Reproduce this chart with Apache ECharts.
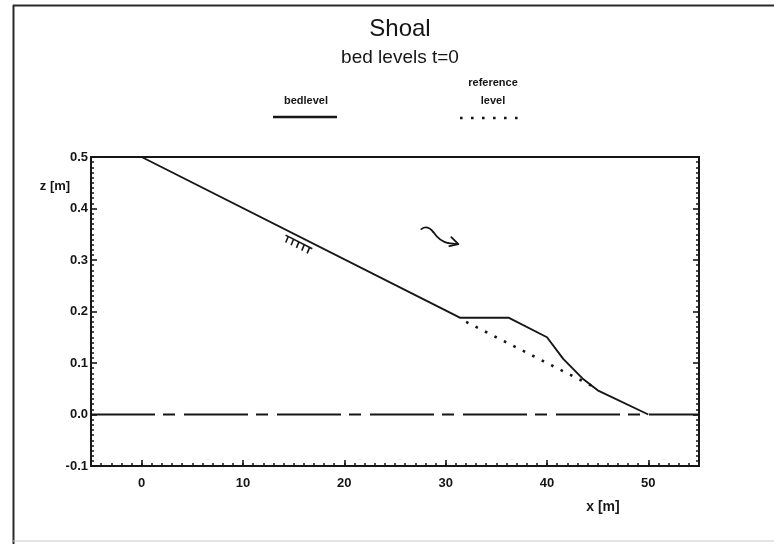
<!DOCTYPE html>
<html>
<head>
<meta charset="utf-8">
<script src="https://cdn.jsdelivr.net/npm/echarts@6/dist/echarts.min.js"></script>
<style>
  html, body { margin: 0; padding: 0; background: #fff; }
  #chart { width: 774px; height: 544px; }
</style>
</head>
<body>
<div id="chart"></div>
<script>
// Bed profile along the flume (x in m, z in m)
const bedX = [0, 31.4, 36.2, 40, 41.6, 43.5, 45, 50];
const bedZ = [0.5, 0.188, 0.188, 0.15, 0.108, 0.07, 0.047, 0];
// Reference level (original 1:100 slope) where it departs from the bed
const refX = [31.4, 45];
const refZ = [0.186, 0.05];
// Still water line
const waterX = [-5, 55];
const waterZ = [0, 0];
// Axis ticks
const xTicks = [0, 10, 20, 30, 40, 50];
const yTicks = [-0.1, 0.0, 0.1, 0.2, 0.3, 0.4, 0.5];

const pairs = (xs, ys) => xs.map((x, i) => [x, ys[i]]);

const INK = '#161616';
const TICK_FONT = { fontFamily: 'Liberation Sans', fontWeight: 'bold', fontSize: 13, color: INK };

const chart = echarts.init(document.getElementById('chart'), null, { renderer: 'canvas' });

const option = {
  animation: false,
  backgroundColor: '#fff',
  grid: {
    left: 91, top: 157, width: 608, height: 309,
    show: true, borderColor: INK, borderWidth: 2, backgroundColor: 'transparent'
  },
  xAxis: [
    {
      type: 'value', min: -5, max: 55, position: 'bottom',
      axisLine: { show: true, onZero: false, lineStyle: { color: INK, width: 2 } },
      axisTick: { show: true, inside: true, length: 6, customValues: xTicks, lineStyle: { color: INK, width: 1.6 } },
      axisLabel: Object.assign({ show: true, margin: 11, customValues: xTicks }, TICK_FONT),
      splitLine: { show: false }
    },
    {
      // unit minor ticks along the bottom edge
      type: 'value', min: -5, max: 55, interval: 1, position: 'bottom',
      axisLine: { show: false, onZero: false },
      axisTick: { show: true, inside: true, length: 3, lineStyle: { color: INK, width: 1.5 } },
      axisLabel: { show: false },
      splitLine: { show: false }
    }
  ],
  yAxis: [
    {
      type: 'value', min: -0.1, max: 0.5, interval: 0.1, position: 'left',
      axisLine: { show: true, onZero: false, lineStyle: { color: INK, width: 2 } },
      axisTick: { show: true, inside: true, length: 6, lineStyle: { color: INK, width: 1.6 } },
      minorTick: { show: true, splitNumber: 10, length: 3, lineStyle: { color: INK, width: 1.5 } },
      axisLabel: Object.assign({
        show: true, margin: 3, customValues: yTicks,
        formatter: v => v.toFixed(1)
      }, TICK_FONT),
      splitLine: { show: false },
      minorSplitLine: { show: false }
    },
    {
      type: 'value', min: -0.1, max: 0.5, interval: 0.1, position: 'right',
      axisLine: { show: true, onZero: false, lineStyle: { color: INK, width: 2 } },
      axisTick: { show: true, inside: true, length: 6, lineStyle: { color: INK, width: 1.6 } },
      minorTick: { show: true, splitNumber: 10, length: 3, lineStyle: { color: INK, width: 1.5 } },
      axisLabel: { show: false },
      splitLine: { show: false },
      minorSplitLine: { show: false }
    }
  ],
  series: [
    {
      name: 'water', type: 'line', xAxisIndex: 0, yAxisIndex: 0,
      data: pairs(waterX, waterZ), symbol: 'none', silent: true,
      lineStyle: { color: INK, width: 2, type: [64, 8, 12, 9], cap: 'butt' }, z: 3
    },
    {
      name: 'reference level', type: 'line', xAxisIndex: 0, yAxisIndex: 0,
      data: pairs(refX, refZ), symbol: 'none', silent: true,
      lineStyle: { color: INK, width: 2.6, type: [2.6, 8], dashOffset: -7, cap: 'butt' }, z: 4
    },
    {
      name: 'bedlevel', type: 'line', xAxisIndex: 0, yAxisIndex: 0,
      data: pairs(bedX, bedZ), symbol: 'none', silent: true,
      lineStyle: { color: INK, width: 1.9 }, z: 5
    }
  ]
};

chart.setOption(option);

// Annotations anchored in data space
const toPx = p => chart.convertToPixel({ xAxisIndex: 0, yAxisIndex: 0 }, p);
const hatch = toPx([14.2, 0.358]);
const wave = toPx([27.6, 0.36]);

// hatching below the slope: a bar parallel to the bed with short strokes hanging from it
const ux = 0.891, uy = 0.453, off = 5;
const hatchEls = [{
  type: 'line', silent: true, x: hatch[0], y: hatch[1],
  shape: { x1: 0, y1: off, x2: 30 * ux, y2: off + 30 * uy },
  style: { stroke: INK, lineWidth: 1.6 }
}];
for (let i = 0; i < 5; i++) {
  const sx = (3 + i * 6) * ux, sy = off + (3 + i * 6) * uy;
  hatchEls.push({
    type: 'line', silent: true, x: hatch[0], y: hatch[1],
    shape: { x1: sx, y1: sy, x2: sx - 2.5, y2: sy + 6 },
    style: { stroke: INK, lineWidth: 1.6 }
  });
}

// wave direction arrow: squiggle plus head
const waveEls = [
  { type: 'bezierCurve', silent: true, x: wave[0], y: wave[1],
    shape: { x1: 0, y1: 0, cpx1: 4, cpy1: -3, cpx2: 8, cpy2: -2, x2: 12, y2: 3 },
    style: { stroke: INK, lineWidth: 1.8, fill: null, lineCap: 'round' } },
  { type: 'bezierCurve', silent: true, x: wave[0], y: wave[1],
    shape: { x1: 12, y1: 3, cpx1: 16, cpy1: 9, cpx2: 21, cpy2: 13, x2: 27, y2: 14 },
    style: { stroke: INK, lineWidth: 1.8, fill: null, lineCap: 'round' } },
  { type: 'polyline', silent: true, x: wave[0], y: wave[1],
    shape: { points: [[27, 14], [36, 15]] },
    style: { stroke: INK, lineWidth: 1.8, fill: null, lineCap: 'round' } },
  { type: 'polyline', silent: true, x: wave[0], y: wave[1],
    shape: { points: [[30, 8], [37, 15], [28, 17]] },
    style: { stroke: INK, lineWidth: 1.8, fill: null, lineJoin: 'round', lineCap: 'round' } }
];

const txt = (text, x, y, font) => ({
  type: 'text', silent: true,
  style: { text, x, y, font, fill: INK, align: 'center', verticalAlign: 'middle' }
});

chart.setOption({
  graphic: [
    // page frame
    { type: 'line', silent: true, shape: { x1: 13.5, y1: 5, x2: 13.5, y2: 544 }, style: { stroke: '#2a2a2a', lineWidth: 2 } },
    { type: 'line', silent: true, shape: { x1: 13, y1: 5.5, x2: 774, y2: 5.5 }, style: { stroke: '#2a2a2a', lineWidth: 2 } },
    { type: 'line', silent: true, shape: { x1: 13, y1: 541, x2: 774, y2: 541 }, style: { stroke: '#c8c8c8', lineWidth: 1 } },
    // titles
    txt('Shoal', 400, 29, '24px "Liberation Sans", Arial, sans-serif'),
    txt('bed levels t=0', 400, 58, '19px "Liberation Sans", Arial, sans-serif'),
    // legend
    txt('bedlevel', 306, 101, 'bold 11px "Liberation Sans", Arial, sans-serif'),
    { type: 'line', silent: true, shape: { x1: 273, y1: 117, x2: 337, y2: 117 }, style: { stroke: INK, lineWidth: 2.5 } },
    txt('reference', 493, 83, 'bold 11px "Liberation Sans", Arial, sans-serif'),
    txt('level', 493, 101, 'bold 11px "Liberation Sans", Arial, sans-serif'),
    { type: 'line', silent: true, shape: { x1: 460, y1: 118, x2: 518, y2: 118 }, style: { stroke: INK, lineWidth: 2.6, lineDash: [2.6, 8.4] } },
    // axis titles
    txt('z [m]', 55, 186, 'bold 13px "Liberation Sans", Arial, sans-serif'),
    txt('x [m]', 603, 507, 'bold 14px "Liberation Sans", Arial, sans-serif')
  ].concat(hatchEls, waveEls)
});
</script>
</body>
</html>
